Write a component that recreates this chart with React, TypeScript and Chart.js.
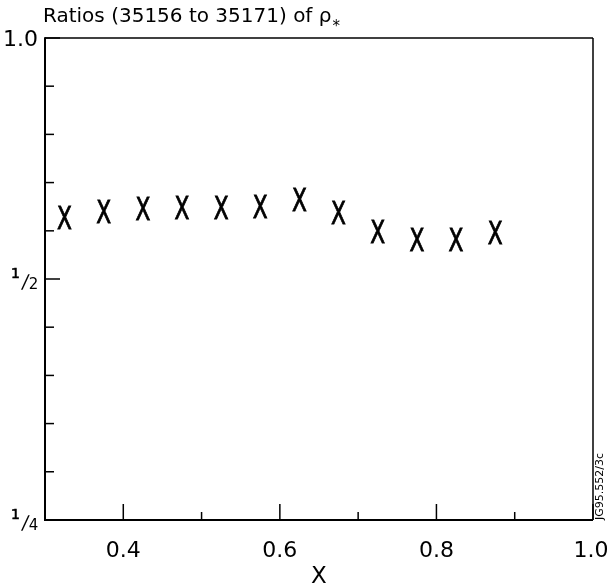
import React, { useEffect, useRef } from "react";
import { Chart, registerables } from "chart.js";

Chart.register(...registerables);

// ---- data ----
const xPositions = [0.325, 0.375, 0.425, 0.475, 0.525, 0.575, 0.625, 0.675, 0.725, 0.775, 0.825, 0.875];
const ratios = [0.597, 0.608, 0.613, 0.615, 0.615, 0.616, 0.628, 0.605, 0.574, 0.561, 0.56, 0.571];

const xMajorTicks = [0.4, 0.6, 0.8, 1.0];
const xTickLabels = ["0.4", "0.6", "0.8", "1.0"];
const xMinorTicks = [0.5, 0.7, 0.9];

const yMajorTicks = [1, 0.5, 0.25];
const yTickNumerators = ["", "1", "1"];
const yTickDenominators = ["1.0", "2", "4"];
const yMinorTicks = [0.8706, 0.7579, 0.6598, 0.5743, 0.4353, 0.3789, 0.3299, 0.2872];

const titleText = "Ratios (35156 to 35171) of ρ";
const titleSubscript = "*";
const xAxisTitle = "X";
const figureCode = "JG95.552/3c";
const markerText = "X";

const FONT = "'DejaVu Sans', sans-serif";

const markers = {
  id: "markers",
  afterDatasetsDraw(chart: any) {
    const ctx: CanvasRenderingContext2D = chart.ctx;
    const meta = chart.getDatasetMeta(0);
    ctx.save();
    ctx.fillStyle = "#000";
    ctx.strokeStyle = "#000";
    ctx.lineWidth = 0.9;
    ctx.font = `32px ${FONT}`;
    ctx.textAlign = "center";
    ctx.textBaseline = "alphabetic";
    const cap = 0.729 * 32;
    meta.data.forEach((el: any) => {
      ctx.save();
      ctx.translate(el.x, el.y);
      ctx.scale(0.68, 1);
      ctx.fillText(markerText, 0, cap / 2);
      ctx.strokeText(markerText, 0, cap / 2);
      ctx.restore();
    });
    ctx.restore();
  },
};

const decorations = {
  id: "decorations",
  afterDraw(chart: any) {
    const ctx: CanvasRenderingContext2D = chart.ctx;
    const { left, right, top, bottom } = chart.chartArea;
    const xs = chart.scales.x;
    const ys = chart.scales.y;
    ctx.save();
    ctx.strokeStyle = "#000";
    ctx.fillStyle = "#000";
    const line = (x1: number, y1: number, x2: number, y2: number, w: number) => {
      ctx.lineWidth = w;
      ctx.beginPath();
      ctx.moveTo(x1, y1);
      ctx.lineTo(x2, y2);
      ctx.stroke();
    };
    // frame
    line(left, top, right, top, 1.5);
    line(right, top, right, bottom, 1.5);
    line(left, top - 0.75, left, bottom + 1, 2);
    line(left - 1, bottom, right, bottom, 2);

    // x ticks (inward)
    xMajorTicks.forEach((v) => {
      const px = xs.getPixelForValue(v);
      line(px, bottom, px, bottom - 16, 1.5);
    });
    xMinorTicks.forEach((v) => {
      const px = xs.getPixelForValue(v);
      line(px, bottom, px, bottom - 8, 1.5);
    });
    // y ticks (inward)
    yMajorTicks.forEach((v) => {
      const py = ys.getPixelForValue(v);
      line(left, py, left + 15, py, 1.5);
    });
    yMinorTicks.forEach((v) => {
      const py = ys.getPixelForValue(v);
      line(left, py, left + 9, py, 1.5);
    });

    // x tick labels
    ctx.textBaseline = "alphabetic";
    ctx.textAlign = "center";
    ctx.font = `22px ${FONT}`;
    xTickLabels.forEach((t, i) => {
      const px = xs.getPixelForValue(xMajorTicks[i]);
      ctx.fillText(t, i === xTickLabels.length - 1 ? px - 2 : px, bottom + 37);
    });
    // x axis title
    ctx.font = `23px ${FONT}`;
    ctx.fillText(xAxisTitle, xs.getPixelForValue(0.65), bottom + 63);

    // y tick labels
    yMajorTicks.forEach((v, i) => {
      const py = ys.getPixelForValue(v);
      if (!yTickNumerators[i]) {
        ctx.textAlign = "right";
        ctx.font = `22px ${FONT}`;
        ctx.fillText(yTickDenominators[i], left - 7, py + 8);
        return;
      }
      ctx.textAlign = "center";
      ctx.font = `15px ${FONT}`;
      ctx.fillText(yTickDenominators[i], left - 11.5, py + 10);
      ctx.font = `19px ${FONT}`;
      ctx.save();
      ctx.translate(left - 20.5, py + 9);
      ctx.transform(1, 0, -0.15, 1, 0, 0);
      ctx.fillText("/", 0, 0);
      ctx.restore();
      ctx.font = `14px ${FONT}`;
      ctx.lineWidth = 0.6;
      ctx.fillText(yTickNumerators[i], left - 29.5, py - 1.5);
      ctx.strokeText(yTickNumerators[i], left - 29.5, py - 1.5);
    });

    // title
    ctx.textAlign = "left";
    ctx.font = `20px ${FONT}`;
    ctx.fillText(titleText, 43, 22);
    const tw = ctx.measureText(titleText).width;
    ctx.font = `15px ${FONT}`;
    ctx.fillText(titleSubscript, 43 + tw + 1, 31);

    // figure code (rotated)
    ctx.save();
    ctx.translate(603, bottom);
    ctx.rotate(-Math.PI / 2);
    ctx.font = `11px ${FONT}`;
    ctx.textAlign = "left";
    ctx.fillText(figureCode, 0, 0);
    ctx.restore();

    ctx.restore();
  },
};

export default function App() {
  const ref = useRef<HTMLCanvasElement | null>(null);
  useEffect(() => {
    document.body.style.margin = "0";
    const canvas = ref.current!;
    const chart = new Chart(canvas, {
      type: "scatter",
      data: {
        datasets: [
          {
            data: xPositions.map((x, i) => ({ x, y: ratios[i] })),
            pointRadius: 0,
            pointHoverRadius: 0,
            showLine: false,
          },
        ],
      },
      options: {
        responsive: false,
        maintainAspectRatio: false,
        animation: false,
        devicePixelRatio: 1,
        layout: { padding: { left: 45, top: 38, right: 14, bottom: 67 } },
        scales: {
          x: { type: "linear", min: 0.3, max: 1.0, display: false },
          y: { type: "logarithmic", min: 0.25, max: 1, display: false },
        },
        plugins: { legend: { display: false }, tooltip: { enabled: false } },
      },
      plugins: [markers, decorations],
    });
    return () => chart.destroy();
  }, []);
  return (
    <div style={{ width: 607, height: 587, background: "#fff" }}>
      <canvas ref={ref} width={607} height={587} style={{ display: "block" }} />
    </div>
  );
}
